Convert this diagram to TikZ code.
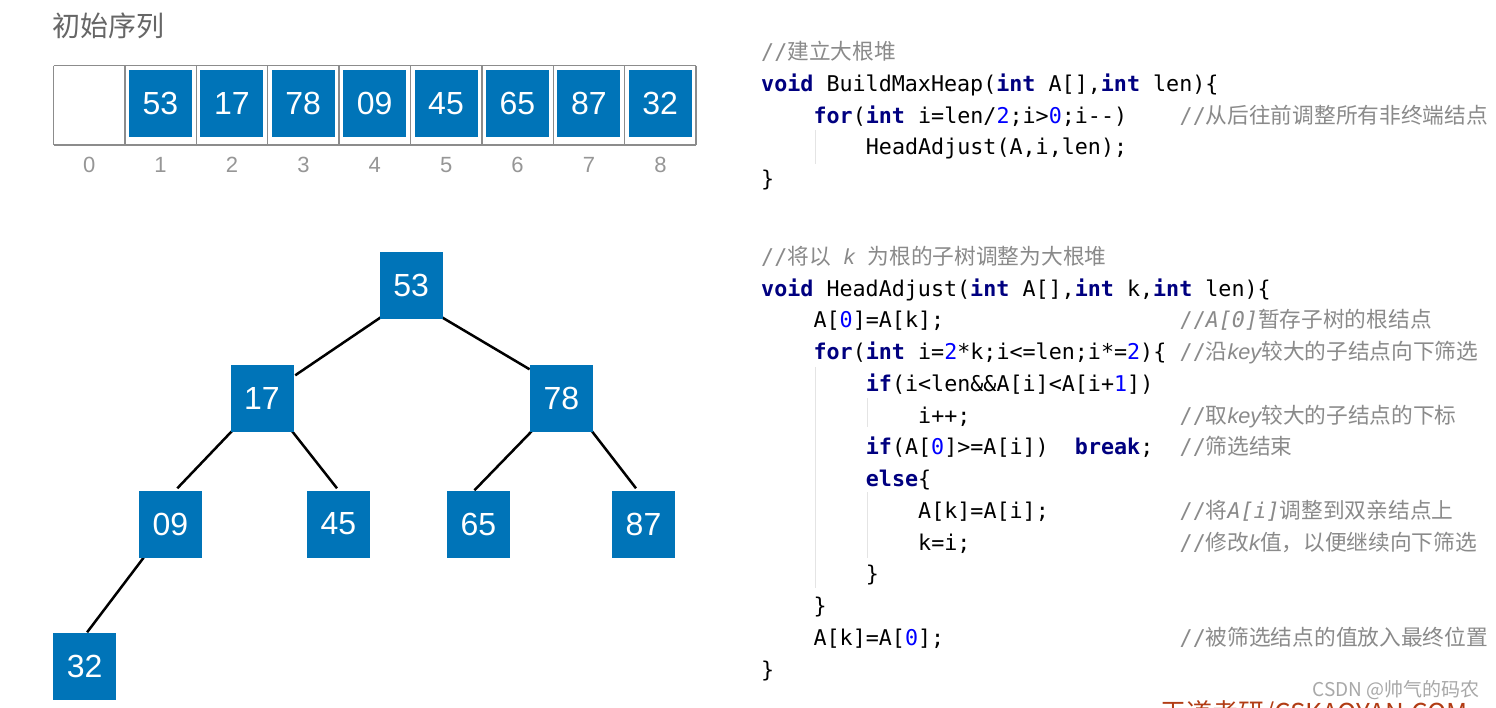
\documentclass[tikz,border=0pt]{standalone}
\usepackage{fontspec}
\setmainfont{Liberation Sans}
\setmonofont{DejaVu Sans Mono}
\newfontfamily\cjkfont{Noto Sans CJK SC}
\usetikzlibrary{backgrounds}
\definecolor{boxblue}{RGB}{0,116,184}
\definecolor{kwnavy}{RGB}{0,0,128}
\definecolor{numblue}{RGB}{0,0,255}
\definecolor{cmtgray}{RGB}{138,138,138}
\definecolor{idxgray}{RGB}{150,150,150}
\definecolor{framegray}{RGB}{140,140,140}
\definecolor{guidegray}{RGB}{228,228,228}
\definecolor{titlegray}{RGB}{102,102,102}
\definecolor{wmgray}{RGB}{168,168,168}
\definecolor{wdred}{RGB}{178,60,20}
\newcommand\kw[1]{\textcolor{kwnavy}{\bfseries #1}}
\newcommand\nm[1]{\textcolor{numblue}{#1}}
\newcommand\cj[1]{{\cjkfont #1}}
\newcommand\slashes{{\ttfamily//}}
\newcommand\itm[1]{{\ttfamily\itshape #1}}
\newcommand\itk[1]{{\itshape #1}}
\newcommand\msp{{\ttfamily\ }}
\begin{document}
\begin{tikzpicture}[x=1pt,y=-1pt,
  bluebox/.style={fill=boxblue, text=white, minimum width=63pt, minimum height=67pt, inner sep=0pt, font=\fontsize{32}{36}\selectfont},
  edge/.style={line width=2.5pt, black},
  codeline/.style={anchor=base west, inner sep=0pt, font=\ttfamily\fontsize{21.7}{26}\selectfont},
  cmtline/.style={anchor=base west, inner sep=0pt, text=cmtgray, font=\fontsize{21.7}{26}\selectfont},
  idx/.style={text=idxgray, inner sep=0pt, font=\fontsize{22}{26}\selectfont},
  arrframe/.style={draw=framegray, line width=1.3pt},
  guide/.style={draw=guidegray, line width=1pt}]
\useasboundingbox (0,0) rectangle (1496,707);

% title
\node[anchor=west, text=titlegray, inner sep=0pt, font=\cjkfont\fontsize{28}{31}\selectfont] (title) at (52,26) {初始序列};

% array frame
\draw[arrframe] (53.5,65.7) -- (696.1,65.7);
\draw[arrframe] (53.5,145) -- (696.1,145);
\foreach \i in {0,...,9} {
  \draw[arrframe] ({53.5+71.4*\i},65.7) -- ({53.5+71.4*\i},145);
}
\foreach \v [count=\k] in {53,17,78,09,45,65,87,32} {
  \node[bluebox] (a\k) at ({89+71.4*\k},103.6) {\v};
}
\foreach \k in {0,...,8} {
  \node[idx] (i\k) at ({89.2+71.4*\k},165) {\k};
}

% tree
\node[bluebox] (n53) at (411.2,285) {53};
\node[bluebox] (n17) at (262,398) {17};
\node[bluebox] (n78) at (561.3,398) {78};
\node[bluebox] (n09) at (170.3,524) {09};
\node[bluebox] (n45) at (338.5,524) {45};
\node[bluebox] (n65) at (478.4,524) {65};
\node[bluebox] (n87) at (643.5,524) {87};
\node[bluebox] (n32) at (84.6,666) {32};
\begin{scope}[on background layer]
\fill[white] (0,0) rectangle (1496,707);
\draw[edge] ([shift={(1.7,-1.7)}]n53.south west) -- ([shift={(1.5,11)}]n17.north east);
\draw[edge] ([shift={(-2,-2)}]n53.south east) -- ([shift={(0,5)}]n78.north west);
\draw[edge] ([shift={(2,-1)}]n17.south west) -- ([shift={(7,-2)}]n09.north);
\draw[edge] ([shift={(-2,-1)}]n17.south east) -- ([shift={(-1.5,-2)}]n45.north);
\draw[edge] ([shift={(2.6,-1)}]n78.south west) -- ([shift={(-4,0)}]n65.north);
\draw[edge] ([shift={(-1.5,-1)}]n78.south east) -- ([shift={(-7.5,-2)}]n87.north);
\draw[edge] ([shift={(5,0)}]n09.south west) -- ([shift={(2.5,0)}]n32.north);
\end{scope}

% code guides
\draw[guide] (815,130) -- (815,164);
\draw[guide] (815,367) -- (815,588);
\draw[guide] (867,398) -- (867,427);
\draw[guide] (867,492) -- (867,558);

% first function
\node[cmtline] (c0) at (761,59.5) {\slashes\cj{建立大根堆}};
\node[codeline] (l1) at (761,91.25) {\kw{void} BuildMaxHeap(\kw{int} A[],\kw{int} len)\{};
\node[codeline] (l2) at (813.4,123) {\kw{for}(\kw{int} i=len/\nm{2};i>\nm{0};i-\kern0pt-)};
\node[cmtline] (c2) at (1179.5,123) {\slashes\cj{从后往前调整所有非终端结点}};
\node[codeline] (l3) at (865.7,154.75) {HeadAdjust(A,i,len);};
\node[codeline] (l4) at (761,186.5) {\}};

% second function
\node[cmtline] (d0) at (761,264.3) {\slashes\cj{将以}\msp\itk{k}\msp\cj{为根的子树调整为大根堆}};
\node[codeline] (m1) at (761,296) {\kw{void} HeadAdjust(\kw{int} A[],\kw{int} k,\kw{int} len)\{};
\node[codeline] (m2) at (813.4,327.8) {A[\nm{0}]=A[k];};
\node[cmtline] (d2) at (1179.5,327.8) {\slashes\itm{A[0]}\cj{暂存子树的根结点}};
\node[codeline] (m3) at (813.4,359.5) {\kw{for}(\kw{int} i=\nm{2}*k;i<=len;i*=\nm{2})\{};
\node[cmtline] (d3) at (1179.5,359.5) {\slashes\cj{沿}\itk{key}\cj{较大的子结点向下筛选}};
\node[codeline] (m4) at (865.7,391.3) {\kw{if}(i<len\&\&A[i]<A[i+\nm{1}])};
\node[codeline] (m5) at (918,423) {i++;};
\node[cmtline] (d5) at (1179.5,423) {\slashes\cj{取}\itk{key}\cj{较大的子结点的下标}};
\node[codeline] (m6) at (865.7,454.8) {\kw{if}(A[\nm{0}]>=A[i])\ \ \kw{break};};
\node[cmtline] (d6) at (1179.5,454.8) {\slashes\cj{筛选结束}};
\node[codeline] (m7) at (865.7,486.5) {\kw{else}\{};
\node[codeline] (m8) at (918,518.3) {A[k]=A[i];};
\node[cmtline] (d8) at (1179.5,518.3) {\slashes\cj{将}\itm{A[i]}\cj{调整到双亲结点上}};
\node[codeline] (m9) at (918,550) {k=i;};
\node[cmtline] (d9) at (1179.5,550) {\slashes\cj{修改}\itk{k}\cj{值，以便继续向下筛选}};
\node[codeline] (m10) at (865.7,581.8) {\}};
\node[codeline] (m11) at (813.4,613.5) {\}};
\node[codeline] (m12) at (813.4,645.3) {A[k]=A[\nm{0}];};
\node[cmtline] (d12) at (1179.5,645.3) {\slashes\cj{被筛选结点的值放入最终位置}};
\node[codeline] (m13) at (761,677) {\}};

% watermarks
\node[anchor=base east, inner sep=0pt, text=wmgray, font=\cjkfont\fontsize{19}{22}\selectfont] (csdn) at (1480,696.5) {CSDN @帅气的码农};
\begin{scope}
\clip (0,0) rectangle (1496,707);
\node[anchor=base west, inner sep=0pt, text=wdred, font=\cjkfont\fontsize{26}{30}\selectfont] (wd) at (1160,722) {王道考研/CSKAOYAN.COM};
\end{scope}
\end{tikzpicture}
\end{document}
